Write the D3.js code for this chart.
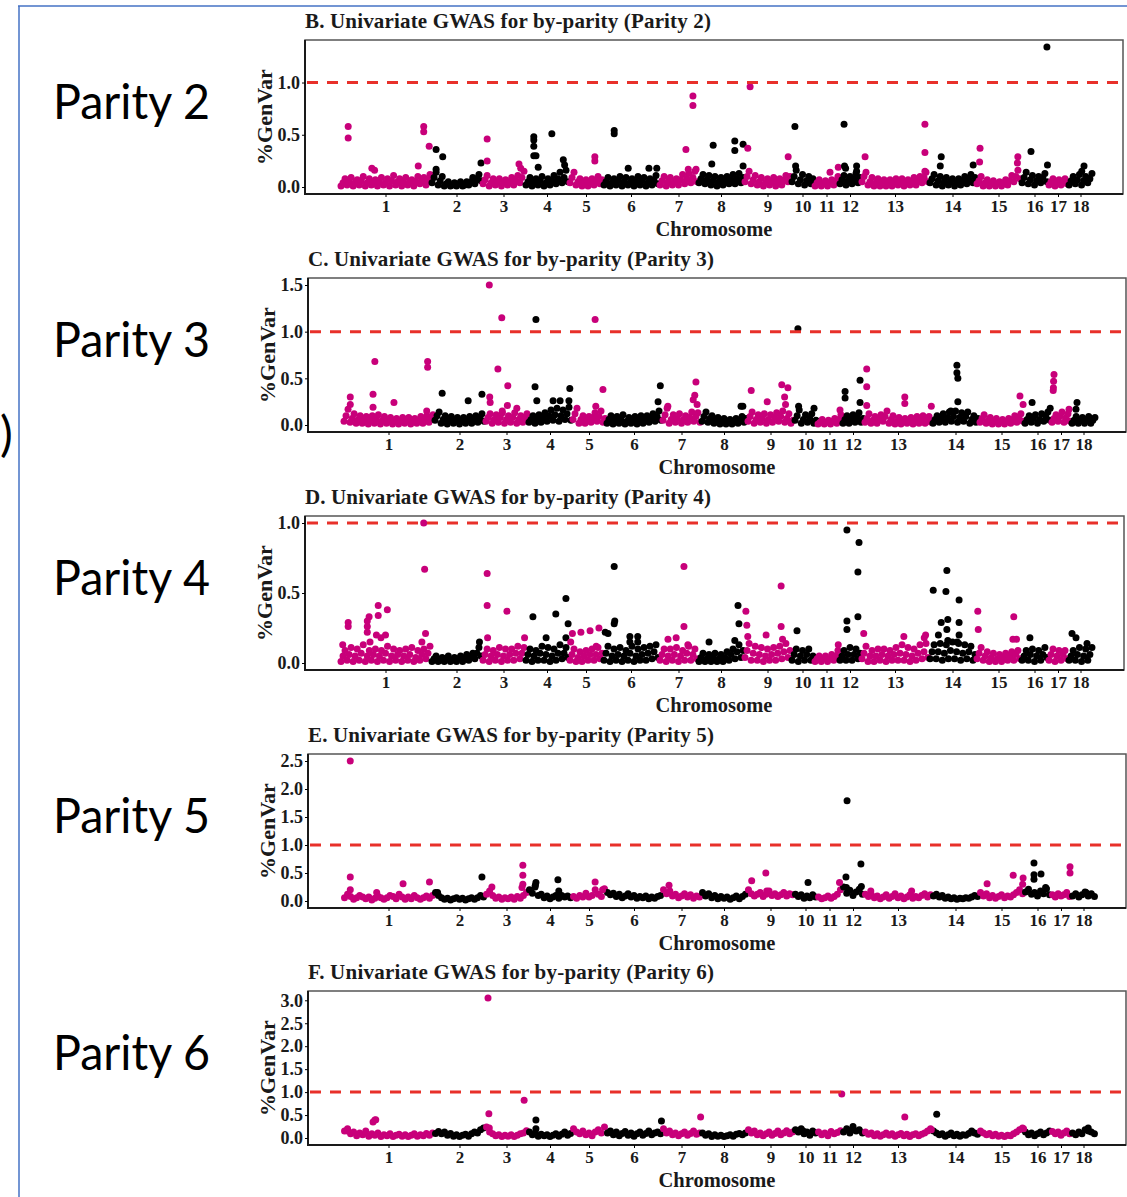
<!DOCTYPE html>
<html>
<head>
<meta charset="utf-8">
<script src="https://cdn.jsdelivr.net/npm/d3@7"></script>
<style>
  body { margin: 0; background: #fff; }
</style>
</head>
<body>
<svg id="fig" width="1127" height="1197"></svg>
<script>
// chromosome names and their relative span on the x axis
const chromosomes = ["1","2","3","4","5","6","7","8","9","10","11","12","13","14","15","16","17","18"];
const chromSpan = [91, 51, 43, 44, 34, 56, 39, 46, 47, 23, 25, 22, 68, 47, 45, 27, 20, 25];

const parityLabels = ["Parity 2", "Parity 3", "Parity 4", "Parity 5", "Parity 6"];
const panelTitles = [
    "B. Univariate GWAS for by-parity (Parity 2)",
    "C. Univariate GWAS for by-parity (Parity 3)",
    "D. Univariate GWAS for by-parity (Parity 4)",
    "E. Univariate GWAS for by-parity (Parity 5)",
    "F. Univariate GWAS for by-parity (Parity 6)"
];
const threshold = 1.0;

// background SNP cloud, %GenVar per chromosome (evenly spread along each chromosome)
const bandP2 = [
    [.01,.04,.08,.02,.05,.09,.01,.04,.07,.02,.06,.1,.01,.04,.08,.02,.05,.07,.01,.05,.09,.02,.04,.08,.01,.06,.11,.02,.05,.08,.01,.04,.09,.02,.05,.07,.01,.05,.1,.03,.06,.09,.02,.07,.12],
    [.04,.09,.14,.02,.06,.1,.01,.03,.05,.01,.02,.04,.01,.03,.05,.01,.02,.05,.02,.05,.09,.03,.08,.12,.06],
    [.03,.07,.11,.01,.04,.08,.02,.05,.08,.01,.04,.07,.02,.05,.09,.02,.06,.11,.04,.09,.15],
    [.02,.05,.09,.01,.05,.08,.02,.06,.1,.01,.04,.08,.02,.06,.11,.03,.08,.14,.04,.09,.16,.05],
    [.04,.09,.14,.02,.05,.08,.01,.04,.07,.01,.04,.08,.02,.06,.1,.03,.07],
    [.02,.05,.09,.01,.04,.08,.02,.06,.1,.01,.05,.09,.02,.04,.08,.01,.05,.1,.02,.06,.09,.01,.04,.08,.02,.06,.11,.03],
    [.02,.06,.1,.01,.05,.09,.02,.05,.08,.02,.07,.12,.03,.08,.13,.04,.09,.15,.05],
    [.04,.08,.12,.03,.07,.11,.02,.06,.1,.01,.05,.09,.02,.06,.1,.03,.07,.12,.03,.08,.13,.04,.09],
    [.05,.1,.15,.03,.07,.11,.02,.05,.09,.01,.04,.08,.02,.05,.09,.01,.05,.08,.02,.06,.11,.05,.1],
    [.05,.1,.16,.03,.07,.12,.02,.06,.1,.03,.08],
    [.01,.04,.07,.01,.03,.06,.01,.04,.07,.02,.06,.1],
    [.03,.07,.11,.02,.06,.1,.03,.08,.13,.04,.09],
    [.05,.1,.14,.02,.05,.09,.01,.04,.08,.01,.04,.07,.01,.03,.07,.01,.04,.08,.02,.05,.08,.01,.04,.07,.02,.05,.09,.02,.06,.1,.04,.09,.14,.05],
    [.04,.08,.12,.02,.06,.1,.01,.05,.09,.02,.05,.08,.01,.04,.08,.02,.06,.1,.03,.07,.12,.04,.09],
    [.03,.06,.1,.01,.04,.07,.01,.03,.06,.01,.03,.05,.01,.04,.07,.02,.06,.11,.05,.1,.16,.08],
    [.04,.09,.14,.03,.07,.11,.02,.06,.1,.04,.09,.13,.05],
    [.02,.05,.08,.01,.04,.07,.02,.05,.08,.03],
    [.02,.06,.1,.03,.07,.12,.02,.06,.1,.04,.08,.13]
];
const bandP3 = [
    [.04,.1,.17,.03,.07,.12,.02,.06,.1,.02,.05,.09,.01,.05,.1,.02,.06,.11,.01,.05,.09,.02,.04,.08,.01,.04,.07,.01,.04,.08,.02,.05,.08,.01,.04,.07,.02,.05,.09,.02,.06,.1,.03,.07,.11],
    [.05,.1,.14,.02,.06,.1,.01,.05,.09,.02,.05,.08,.01,.04,.08,.02,.05,.09,.02,.06,.1,.03,.08,.12,.04],
    [.04,.08,.12,.02,.06,.11,.03,.08,.13,.02,.06,.1,.03,.08,.13,.02,.06,.1,.03,.08,.12],
    [.03,.06,.1,.02,.06,.11,.03,.08,.13,.04,.1,.16,.05,.11,.18,.04,.1,.16,.06,.12,.19,.05],
    [.06,.12,.18,.02,.06,.1,.02,.05,.09,.03,.08,.13,.04,.09,.15,.03,.07],
    [.02,.06,.1,.01,.05,.09,.02,.06,.11,.01,.04,.08,.02,.05,.09,.01,.05,.1,.02,.06,.1,.03,.07,.12,.04,.09,.15,.05],
    [.05,.11,.18,.02,.06,.11,.03,.07,.12,.02,.06,.1,.03,.08,.14,.04,.09,.13,.03],
    [.04,.09,.14,.03,.07,.1,.02,.05,.08,.01,.04,.07,.01,.03,.06,.01,.04,.07,.02,.05,.09,.03,.07],
    [.04,.09,.14,.02,.06,.11,.03,.07,.12,.02,.06,.11,.03,.08,.13,.04,.09,.15,.03,.07,.12,.02,.05],
    [.05,.1,.16,.02,.06,.11,.03,.07,.12,.02,.05],
    [.01,.03,.06,.01,.03,.05,.01,.04,.07,.02,.06,.11],
    [.02,.06,.1,.02,.06,.11,.03,.08,.13,.03,.07],
    [.03,.07,.12,.02,.05,.09,.02,.06,.11,.04,.09,.15,.02,.06,.1,.01,.04,.08,.01,.04,.07,.02,.05,.08,.01,.05,.09,.02,.06,.1,.02,.05,.09,.03],
    [.02,.06,.1,.03,.07,.12,.03,.08,.14,.04,.09,.15,.03,.08,.13,.04,.09,.14,.02,.06,.1,.03,.07],
    [.03,.07,.11,.02,.05,.08,.01,.04,.07,.01,.03,.06,.01,.04,.07,.02,.06,.1,.03,.08,.12,.04],
    [.02,.06,.1,.03,.07,.11,.02,.06,.12,.04,.09,.14,.05],
    [.03,.07,.11,.04,.09,.14,.03,.08,.12,.04],
    [.02,.05,.09,.02,.05,.08,.02,.06,.09,.02,.05,.08]
];
const bandP4 = [
    [.01,.05,.09,.02,.06,.11,.01,.05,.1,.02,.07,.13,.01,.05,.09,.02,.06,.1,.01,.05,.09,.02,.07,.12,.01,.05,.1,.02,.06,.09,.01,.05,.1,.02,.06,.11,.01,.04,.09,.02,.06,.1,.03,.07,.12],
    [.01,.03,.05,.01,.02,.04,.01,.03,.05,.01,.02,.04,.01,.03,.05,.01,.03,.06,.02,.04,.07,.03,.07,.11,.05],
    [.02,.06,.1,.01,.05,.09,.02,.06,.11,.01,.05,.1,.02,.06,.1,.02,.07,.12,.03,.07,.11],
    [.02,.06,.1,.01,.05,.09,.02,.07,.12,.02,.06,.11,.01,.05,.1,.02,.07,.13,.03,.07,.11,.04],
    [.02,.06,.1,.01,.04,.08,.01,.05,.09,.02,.06,.1,.02,.06,.11,.03,.07],
    [.02,.07,.12,.01,.05,.1,.02,.06,.11,.01,.05,.09,.02,.07,.12,.01,.05,.1,.02,.06,.11,.02,.07,.12,.03,.08,.13,.04],
    [.02,.06,.1,.01,.05,.1,.02,.06,.11,.01,.05,.09,.02,.07,.12,.02,.06,.1,.03],
    [.01,.04,.07,.01,.03,.06,.01,.04,.07,.01,.03,.06,.01,.04,.08,.02,.06,.1,.03,.08,.13,.04,.09],
    [.04,.09,.14,.02,.07,.12,.02,.06,.11,.01,.05,.1,.02,.06,.11,.02,.07,.12,.03,.08,.14,.04,.09],
    [.02,.06,.1,.01,.05,.09,.02,.06,.1,.02,.05],
    [.01,.03,.05,.01,.03,.05,.01,.03,.06,.02,.05,.09],
    [.02,.05,.09,.02,.06,.11,.02,.06,.1,.03,.07],
    [.03,.07,.12,.01,.05,.09,.01,.05,.1,.02,.06,.1,.01,.05,.09,.02,.06,.11,.02,.07,.13,.02,.06,.11,.01,.05,.1,.02,.07,.13,.03,.08,.14,.04],
    [.03,.08,.13,.03,.08,.14,.02,.07,.13,.03,.09,.15,.03,.08,.14,.02,.07,.13,.03,.08,.12,.02,.06],
    [.03,.07,.11,.02,.05,.08,.01,.04,.07,.01,.03,.06,.01,.04,.07,.02,.05,.08,.02,.06,.09,.03],
    [.02,.05,.09,.02,.06,.1,.01,.05,.09,.02,.06,.11,.04],
    [.02,.06,.1,.01,.05,.09,.02,.06,.09,.03],
    [.02,.05,.09,.02,.06,.11,.01,.05,.1,.02,.06,.11]
];
const bandP5 = [
    [.06,.12,.08,.03,.06,.1,.07,.04,.07,.02,.05,.09,.06,.03,.06,.1,.08,.04,.12,.07,.03,.07,.04,.1,.06,.03,.06,.09,.05,.1],
    [.15,.1,.06,.03,.05,.02,.04,.06,.03,.05,.02,.04,.06,.03,.06,.1,.07],
    [.12,.18,.1,.05,.07,.03,.06,.04,.07,.03,.08,.05,.1,.15],
    [.2,.14,.28,.1,.12,.06,.09,.04,.07,.1,.05,.1,.07,.09,.06],
    [.08,.05,.1,.07,.14,.07,.1,.2,.12,.08,.22],
    [.15,.11,.14,.08,.12,.06,.09,.13,.07,.1,.05,.08,.06,.09,.04,.07,.05,.08,.1],
    [.2,.13,.16,.09,.12,.06,.09,.13,.07,.11,.05,.09,.07],
    [.15,.09,.13,.06,.1,.04,.08,.05,.07,.03,.06,.09,.04,.08,.12],
    [.2,.13,.09,.12,.15,.08,.12,.18,.1,.13,.08,.11,.15,.09,.13,.11],
    [.12,.08,.11,.05,.09,.06,.11,.07],
    [.07,.04,.06,.09,.05,.08,.12,.2],
    [.25,.14,.19,.1,.16,.21,.12],
    [.12,.08,.11,.06,.09,.04,.07,.11,.05,.08,.13,.06,.09,.04,.07,.11,.05,.08,.06,.1,.13,.07,.11],
    [.09,.12,.07,.1,.05,.07,.04,.06,.03,.05,.04,.06,.05,.07,.1,.08],
    [.15,.09,.13,.06,.1,.05,.08,.11,.06,.09,.07,.11,.15,.2,.13],
    [.16,.21,.12,.15,.09,.18,.13,.22,.11],
    [.11,.07,.13,.09,.11,.15,.08],
    [.09,.13,.07,.11,.16,.09,.13,.08]
];
const bandP6 = [
    [.15,.2,.09,.13,.05,.11,.07,.15,.04,.09,.06,.11,.03,.07,.05,.09,.03,.06,.08,.04,.07,.03,.06,.09,.04,.07,.05,.1,.06,.11],
    [.1,.14,.09,.13,.06,.1,.04,.07,.03,.06,.08,.04,.09,.13,.11,.18,.22],
    [.24,.13,.09,.05,.07,.03,.06,.04,.07,.03,.06,.09,.11,.16],
    [.13,.07,.11,.04,.08,.05,.07,.03,.06,.09,.04,.08,.13,.06,.1],
    [.2,.13,.09,.15,.07,.11,.05,.13,.18,.11,.24],
    [.11,.15,.07,.13,.05,.1,.14,.06,.11,.04,.09,.13,.06,.1,.15,.07,.11,.13,.09],
    [.2,.11,.15,.07,.11,.05,.09,.13,.06,.1,.15,.08,.11],
    [.11,.06,.09,.03,.07,.04,.06,.03,.05,.07,.04,.08,.1,.07,.11],
    [.18,.11,.15,.07,.11,.05,.09,.13,.06,.1,.15,.07,.11,.16,.09,.13],
    [.18,.13,.2,.09,.13,.06,.15,.11],
    [.13,.07,.11,.05,.14,.09,.12,.16],
    [.13,.2,.11,.25,.15,.18,.11],
    [.13,.08,.11,.05,.09,.04,.07,.11,.06,.09,.04,.07,.1,.05,.08,.03,.07,.09,.05,.08,.11,.15,.2],
    [.15,.11,.07,.09,.04,.07,.11,.05,.08,.04,.07,.06,.1,.15,.11,.08],
    [.15,.11,.07,.1,.05,.08,.04,.06,.03,.06,.05,.09,.13,.18,.22],
    [.13,.07,.11,.05,.09,.13,.07,.11,.15],
    [.14,.09,.13,.06,.11,.15,.09],
    [.11,.07,.13,.09,.18,.22,.13,.09]
];

// standout SNPs: [chromosome, relative position along chromosome, %GenVar]
const peaksP2 = [
    [1,.09,.58],[1,.09,.47],[1,.35,.18],[1,.38,.16],[1,.86,.2],[1,.92,.58],[1,.92,.53],[1,.98,.39],
    [2,.1,.36],[2,.1,.17],[2,.23,.29],[2,.98,.23],
    [3,.12,.46],[3,.12,.25],[3,.86,.22],[3,.9,.18],
    [4,.2,.48],[4,.2,.45],[4,.2,.39],[4,.2,.3],[4,.25,.3],[4,.3,.19],[4,.61,.51],[4,.87,.26],[4,.9,.21],
    [5,.76,.29],[5,.76,.25],
    [6,.2,.54],[6,.2,.51],[6,.45,.18],[6,.82,.18],[6,.96,.18],
    [7,.69,.36],[7,.87,.87],[7,.87,.78],[7,.75,.17],[7,.95,.17],
    [8,.33,.4],[8,.3,.22],[8,.8,.44],[8,.8,.35],[8,.98,.41],[8,.98,.2],
    [9,.08,.37],[9,.13,.96],[9,.94,.29],
    [10,.17,.58],[10,.2,.2],
    [11,.64,.14],[11,.97,.19],
    [12,.23,.6],[12,.25,.2],[12,.3,.18],[12,.8,.2],[12,.8,.15],
    [13,.06,.29],[13,.94,.6],[13,.94,.33],[13,.94,.15],
    [14,.26,.29],[14,.24,.2],[14,.94,.21],
    [15,.09,.37],[15,.08,.24],[15,.93,.29],[15,.92,.23],
    [16,.37,.34],[16,.96,1.34],[16,.98,.21],
    [18,.64,.2],[18,.55,.15]
];
const peaksP3 = [
    [1,.08,.3],[1,.08,.22],[1,.33,.33],[1,.33,.19],[1,.35,.68],[1,.56,.24],[1,.92,.15],[1,.93,.68],[1,.93,.62],
    [2,.16,.34],[2,.67,.26],[2,.94,.33],
    [3,.1,1.5],[3,.11,.3],[3,.12,.24],[3,.3,.6],[3,.39,1.15],[3,.4,.15],[3,.53,.42],[3,.52,.21],[3,.74,.18],
    [4,.16,.41],[4,.18,1.13],[4,.2,.26],[4,.57,.26],[4,.73,.26],[4,.93,.26],[4,.95,.39],
    [5,.68,1.13],[5,.91,.38],[5,.7,.2],
    [6,.97,.42],[6,.93,.25],
    [7,.15,.2],[7,.8,.27],[7,.84,.32],[7,.87,.46],[7,.9,.22],
    [8,.87,.2],[8,.91,.2],
    [9,.09,.37],[9,.43,.25],[9,.74,.43],[9,.87,.4],[9,.8,.3],[9,.82,.22],
    [10,.17,1.03],[10,.2,.2],[10,.87,.18],
    [11,.92,.16],
    [12,.14,.36],[12,.14,.29],[12,.82,.48],[12,.82,.24],
    [13,.04,.6],[13,.04,.41],[13,.04,.21],[13,.6,.3],[13,.6,.23],[13,.99,.2],
    [14,.53,.64],[14,.53,.56],[14,.55,.5],[14,.55,.25],[14,.4,.15],
    [15,.91,.31],[15,.98,.22],
    [16,.3,.24],[16,.97,.18],
    [17,.15,.54],[17,.13,.47],[17,.12,.4],[17,.11,.37],[17,.9,.17],
    [18,.24,.24],[18,.2,.17]
];
const peaksP4 = [
    [1,.03,.13],[1,.09,.29],[1,.09,.26],[1,.3,.3],[1,.3,.26],[1,.3,.22],[1,.32,.33],[1,.33,.15],[1,.42,.41],[1,.42,.34],
    [1,.52,.38],[1,.5,.2],[1,.45,.18],[1,.4,.2],[1,.92,1.0],[1,.93,.67],[1,.94,.21],[1,.9,.15],
    [2,.95,.15],
    [3,.12,.64],[3,.12,.41],[3,.13,.18],[3,.58,.37],[3,.99,.18],
    [4,.18,.33],[4,.48,.18],[4,.7,.35],[4,.93,.46],[4,.98,.28],[4,.93,.18],
    [5,.05,.15],[5,.1,.21],[5,.35,.22],[5,.62,.23],[5,.88,.25],[5,.8,.12],
    [6,.04,.22],[6,.09,.21],[6,.2,.28],[6,.21,.3],[6,.2,.69],[6,.48,.19],[6,.62,.19],[6,.48,.15],[6,.62,.15],
    [7,.23,.17],[7,.44,.18],[7,.74,.13],[7,.64,.69],[7,.64,.26],
    [8,.24,.15],[8,.87,.41],[8,.89,.28],[8,.8,.16],
    [9,.04,.37],[9,.06,.27],[9,.08,.19],[9,.47,.2],[9,.79,.55],[9,.79,.26],[9,.82,.17],
    [10,.26,.23],
    [11,.97,.13],
    [12,.36,.3],[12,.36,.24],[12,.36,.95],[12,.91,.86],[12,.86,.65],[12,.86,.33],
    [13,.04,.21],[13,.63,.19],[13,.95,.2],[13,.93,.18],
    [14,.09,.52],[14,.38,.66],[14,.36,.51],[14,.26,.29],[14,.4,.31],[14,.38,.24],[14,.4,.16],[14,.2,.2],
    [14,.64,.45],[14,.64,.29],[14,.64,.2],[14,.6,.15],
    [15,.04,.37],[15,.05,.24],[15,.84,.33],[15,.82,.17],[15,.9,.17],
    [16,.33,.18],
    [18,.16,.21],[18,.32,.18],[18,.76,.14]
];
const peaksP5 = [
    [1,.08,2.5],[1,.08,.43],[1,.08,.2],[1,.37,.15],[1,.66,.31],[1,.95,.34],
    [2,.07,.15],[2,.94,.43],
    [3,.16,.25],[3,.88,.64],[3,.88,.46],[3,.88,.3],[3,.86,.24],
    [4,.18,.33],[4,.16,.25],[4,.68,.38],[4,.7,.18],
    [5,.68,.34],[5,.9,.2],
    [7,.18,.28],[7,.2,.18],
    [9,.1,.36],[9,.4,.5],[9,.42,.18],
    [10,.61,.33],
    [11,.9,.33],
    [12,.23,1.79],[12,.18,.43],[12,.2,.24],[12,.86,.66],[12,.88,.26],
    [13,.1,.18],[13,.7,.18],
    [15,.18,.31],[15,.76,.46],[15,.98,.41],[15,.97,.3],
    [16,.37,.68],[16,.37,.47],[16,.37,.39],[16,.63,.48],[16,.8,.24],
    [17,.95,.61],[17,.95,.5],
    [18,.6,.15]
];
const peaksP6 = [
    [1,.33,.35],[1,.35,.39],[1,.36,.4],[1,.05,.15],
    [3,.07,3.05],[3,.09,.53],[3,.1,.22],[3,.91,.82],
    [4,.18,.39],[4,.18,.2],
    [6,.99,.37],
    [7,.99,.46],
    [10,.4,.15],
    [11,.99,.96],
    [12,.5,.18],
    [13,.6,.46],[13,.99,.18],
    [14,.1,.52],
    [15,.99,.2],
    [18,.7,.15]
];

const bands = [bandP2, bandP3, bandP4, bandP5, bandP6];
const peaks = [peaksP2, peaksP3, peaksP4, peaksP5, peaksP6];

// where each pasted panel sits on the page
const layout = [
    { top: 40,  left: 305, width: 818 },
    { top: 278, left: 308, width: 818 },
    { top: 516, left: 305, width: 819 },
    { top: 754, left: 308, width: 818 },
    { top: 991, left: 308, width: 818 }
];
const boxH = 154;
const magenta = "#c8007a";
const serif = "'Liberation Serif', 'Times New Roman', serif";

const svg = d3.select("#fig");

// blue slide frame and stray bracket
svg.append("line").attr("x1", 18).attr("x2", 1127).attr("y1", 6).attr("y2", 6)
    .attr("stroke", "#4472c4").attr("stroke-width", 1.5);
svg.append("line").attr("x1", 19).attr("x2", 19).attr("y1", 6).attr("y2", 1197)
    .attr("stroke", "#4472c4").attr("stroke-width", 1.5);
svg.append("text").attr("x", 0).attr("y", 451)
    .attr("font-family", "Lato, 'Open Sans', sans-serif").attr("font-size", 48).text(")");

const starts = [0, ...d3.cumsum(chromSpan)].slice(0, chromSpan.length);
const total = d3.sum(chromSpan);
const mids = starts.map((s, i) => s + chromSpan[i] / 2);
const colorOf = c => (c % 2 === 0 ? magenta : "#000");

parityLabels.forEach((label, k) => {
    const L = layout[k];
    const top = L.top, left = L.left, w = L.width;

    // flatten band + peaks into points
    const pts = [];
    bands[k].forEach((vals, c) => {
        vals.forEach((v, i) => {
            pts.push({ c: c, pos: starts[c] + (i + 0.5) / vals.length * chromSpan[c], v: v });
        });
    });
    peaks[k].forEach(([chr, f, v]) => {
        pts.push({ c: chr - 1, pos: starts[chr - 1] + f * chromSpan[chr - 1], v: v });
    });

    const vmax = d3.max(pts, d => d.v);
    const pad = vmax * 0.05;

    const x = d3.scaleLinear().domain([0, total]).range([left + 35, left + 788]);
    const y = d3.scaleLinear().domain([-pad, vmax + pad]).range([top + boxH, top]);

    // left label
    svg.append("text")
        .attr("x", 53).attr("y", top + 79)
        .attr("font-family", "Lato, 'Open Sans', sans-serif")
        .attr("font-size", 48)
        .attr("textLength", 157)
        .attr("lengthAdjust", "spacingAndGlyphs")
        .text(label);

    // title
    svg.append("text")
        .attr("x", left).attr("y", top - 12)
        .attr("font-family", serif).attr("font-weight", "bold")
        .attr("font-size", 21).attr("fill", "#1a1a1a")
        .attr("textLength", 406)
        .text(panelTitles[k]);

    const g = svg.append("g");

    g.selectAll("circle")
        .data(pts)
        .enter()
        .append("circle")
        .attr("cx", d => x(d.pos))
        .attr("cy", d => y(d.v))
        .attr("r", 3.5)
        .attr("fill", d => colorOf(d.c));

    // significance threshold
    g.append("line")
        .attr("x1", left + 2).attr("x2", left + w)
        .attr("y1", y(threshold)).attr("y2", y(threshold))
        .attr("stroke", "#e8302a").attr("stroke-width", 3)
        .attr("stroke-dasharray", "11,9");

    // panel border
    g.append("rect")
        .attr("x", left).attr("y", top).attr("width", w).attr("height", boxH)
        .attr("fill", "none").attr("stroke", "#555").attr("stroke-width", 1.5);
    g.append("path")
        .attr("d", `M${left},${top}V${top + boxH}H${left + w}`)
        .attr("fill", "none").attr("stroke", "#1a1a1a").attr("stroke-width", 2);

    // y axis
    const yTicks = d3.range(0, vmax + 0.001, 0.5);
    const yAxis = svg.append("g")
        .attr("transform", `translate(${left},0)`)
        .call(d3.axisLeft(y).tickValues(yTicks).tickFormat(d3.format(".1f")).tickSize(3).tickPadding(2));
    yAxis.select(".domain").remove();
    yAxis.selectAll("text")
        .attr("font-family", serif).attr("font-weight", "bold")
        .attr("font-size", 18).attr("fill", "#1a1a1a");

    // x axis
    const xAxis = svg.append("g")
        .attr("transform", `translate(0,${top + boxH})`)
        .call(d3.axisBottom(x).tickValues(mids).tickFormat((d, i) => chromosomes[i]).tickSize(3).tickPadding(3));
    xAxis.select(".domain").remove();
    xAxis.selectAll("text")
        .attr("font-family", serif).attr("font-weight", "bold")
        .attr("font-size", 17).attr("fill", "#1a1a1a");

    // axis titles
    svg.append("text")
        .attr("x", left + 409).attr("y", top + boxH + 42)
        .attr("text-anchor", "middle")
        .attr("font-family", serif).attr("font-weight", "bold")
        .attr("font-size", 20.5).attr("fill", "#1a1a1a")
        .text("Chromosome");

    svg.append("text")
        .attr("transform", `translate(${left - 33},${top + boxH / 2}) rotate(-90)`)
        .attr("text-anchor", "middle")
        .attr("font-family", serif).attr("font-weight", "bold")
        .attr("font-size", 22).attr("fill", "#1a1a1a")
        .text("%GenVar");
});
</script>
</body>
</html>
